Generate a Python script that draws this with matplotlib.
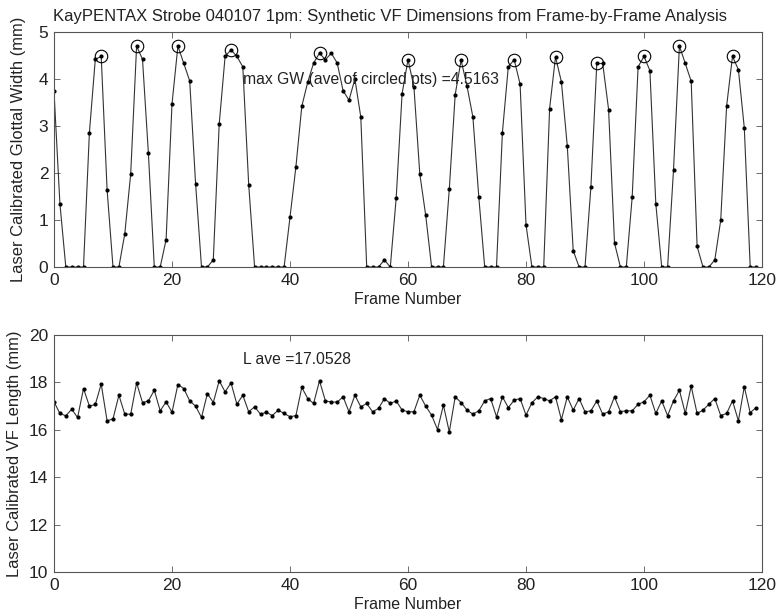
import matplotlib
matplotlib.use("Agg")
import matplotlib.pyplot as plt
import numpy as np

plt.rcParams['font.family'] = ['Liberation Sans', 'DejaVu Sans']

# ---- data ----
frames = list(range(120))
glottal_width = [
    3.74, 1.35, 0.00, 0.00, 0.00, 0.00, 2.86, 4.42, 4.48, 1.64,
    0.00, 0.00, 0.71, 1.98, 4.70, 4.42, 2.42, 0.00, 0.00, 0.58,
    3.47, 4.70, 4.33, 3.96, 1.77, 0.00, 0.00, 0.15, 3.04, 4.48,
    4.62, 4.48, 4.26, 1.75, 0.00, 0.00, 0.00, 0.00, 0.00, 0.00,
    1.06, 2.13, 3.42, 3.93, 4.34, 4.55, 4.41, 4.55, 4.34, 3.75,
    3.55, 4.00, 3.19, 0.00, 0.00, 0.00, 0.15, 0.00, 1.47, 3.69,
    4.41, 3.84, 1.98, 1.10, 0.00, 0.00, 0.00, 1.66, 3.67, 4.40,
    3.85, 3.19, 1.49, 0.00, 0.00, 0.00, 2.86, 4.26, 4.41, 3.89,
    0.90, 0.00, 0.00, 0.00, 3.37, 4.47, 3.94, 2.57, 0.35, 0.00,
    0.00, 1.70, 4.33, 4.33, 3.35, 0.51, 0.00, 0.00, 1.49, 4.26,
    4.48, 4.18, 1.35, 0.00, 0.00, 2.06, 4.70, 4.33, 3.95, 0.44,
    0.00, 0.00, 0.15, 0.99, 3.42, 4.48, 4.20, 2.96, 0.00, 0.00,
]
circled_frames = [8, 14, 21, 30, 45, 60, 69, 78, 85, 92, 100, 106, 115]

vf_length = [
    17.18, 16.69, 16.59, 16.87, 16.52, 17.74, 17.00, 17.07, 17.93, 16.38,
    16.46, 17.46, 16.66, 16.66, 17.98, 17.15, 17.22, 17.67, 16.80, 17.18,
    16.74, 17.91, 17.74, 17.22, 17.00, 16.52, 17.53, 17.15, 18.07, 17.60,
    17.98, 17.08, 17.46, 16.76, 16.97, 16.66, 16.74, 16.60, 16.83, 16.69,
    16.55, 16.60, 17.79, 17.32, 17.11, 18.07, 17.22, 17.17, 17.17, 17.39,
    16.76, 17.46, 16.97, 17.11, 16.76, 16.90, 17.32, 17.11, 17.22, 16.83,
    16.76, 16.76, 17.46, 17.00, 16.62, 16.01, 17.04, 15.91, 17.39, 17.15,
    16.83, 16.66, 16.80, 17.22, 17.32, 16.55, 17.39, 16.94, 17.25, 17.32,
    16.62, 17.14, 17.39, 17.32, 17.22, 17.39, 16.43, 17.39, 16.83, 17.32,
    16.76, 16.80, 17.22, 16.66, 16.76, 17.39, 16.77, 16.80, 16.80, 17.08,
    17.18, 17.46, 16.69, 17.22, 16.60, 17.22, 17.67, 16.69, 17.84, 16.69,
    16.83, 17.08, 17.32, 16.60, 16.69, 17.22, 16.38, 17.82, 16.72, 16.94,
]

title_text = "KayPENTAX Strobe 040107 1pm: Synthetic VF Dimensions from Frame-by-Frame Analysis"
gw_note = "max GW (ave of circled pts) =4.5163"
l_note = "L ave =17.0528"
x_ticks = [0, 20, 40, 60, 80, 100, 120]
gw_ticks = [0, 1, 2, 3, 4, 5]
l_ticks = [10, 12, 14, 16, 18, 20]

# ---- figure ----
fig = plt.figure(figsize=(7.80, 6.16), dpi=100)
ax1 = fig.add_axes([54/780, 1-267/616, 708/780, 235/616])
ax2 = fig.add_axes([54/780, 1-572/616, 708/780, 237/616])

line_col = '#333333'
for ax in (ax1, ax2):
    for s in ax.spines.values():
        s.set_color('#555555')
        s.set_linewidth(0.8)
    ax.tick_params(direction='in', length=4, width=0.6, color='#555555',
                   top=True, right=True, labelsize=12.5, pad=4, labelcolor='#222222')
    ax.set_xlim(0, 120)
    ax.set_xticks(x_ticks)
    ax.set_xlabel("Frame Number", fontsize=11.5, color='#222222', labelpad=3)

ax1.plot(frames, glottal_width, '-', color=line_col, lw=0.8)
ax1.plot(frames, glottal_width, '.', color='black', ms=4)
cx = [frames[i] for i in circled_frames]
cy = [glottal_width[i] for i in circled_frames]
ax1.plot(cx, cy, 'o', mfc='none', mec='black', ms=9, mew=0.8)
ax1.set_ylim(0, 5)
ax1.set_yticks(gw_ticks)
ax1.set_ylabel("Laser Calibrated Glottal Width (mm)", fontsize=11.9, color='#222222', labelpad=9)
ax1.text(32, 3.98, gw_note, fontsize=11.3, va='center', ha='left', color='#222222')
fig.text(390/780, 1 - 16/616, title_text, fontsize=12, ha='center', va='center', color='#222222')

ax2.plot(frames, vf_length, '-', color=line_col, lw=0.8)
ax2.plot(frames, vf_length, '.', color='black', ms=4)
ax2.set_ylim(10, 20)
ax2.set_yticks(l_ticks)
ax2.set_ylabel("Laser Calibrated VF Length (mm)", fontsize=11.9, color='#222222', labelpad=5)
ax2.text(32, 18.95, l_note, fontsize=11.3, va='center', ha='left', color='#222222')

fig.savefig("out.png", dpi=100)
